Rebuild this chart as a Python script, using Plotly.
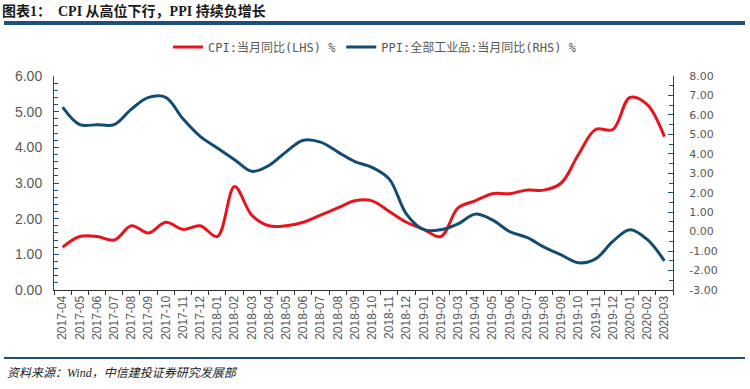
import plotly.graph_objects as go

months = ["2017-04","2017-05","2017-06","2017-07","2017-08","2017-09","2017-10","2017-11","2017-12",
          "2018-01","2018-02","2018-03","2018-04","2018-05","2018-06","2018-07","2018-08","2018-09",
          "2018-10","2018-11","2018-12","2019-01","2019-02","2019-03","2019-04","2019-05","2019-06",
          "2019-07","2019-08","2019-09","2019-10","2019-11","2019-12","2020-01","2020-02","2020-03"]
cpi = [1.2,1.5,1.5,1.4,1.8,1.6,1.9,1.7,1.8,
       1.5,2.9,2.1,1.8,1.8,1.9,2.1,2.3,2.5,
       2.5,2.2,1.9,1.7,1.5,2.3,2.5,2.7,2.7,
       2.8,2.8,3.0,3.8,4.5,4.5,5.4,5.2,4.3]
ppi = [6.4,5.5,5.5,5.5,6.3,6.9,6.9,5.8,4.9,
       4.3,3.7,3.1,3.4,4.1,4.7,4.6,4.1,3.6,
       3.3,2.7,0.9,0.1,0.1,0.4,0.9,0.6,0.0,
       -0.3,-0.8,-1.2,-1.6,-1.4,-0.5,0.1,-0.4,-1.5]
left_ticks = [0,1,2,3,4,5,6]
right_ticks = [-3,-2,-1,0,1,2,3,4,5,6,7,8]

title_text = "<b>图表1：  CPI 从高位下行，PPI 持续负增长</b>"
source_text = "<i>资料来源：Wind，中信建投证券研究发展部</i>"
name_cpi = "CPI:当月同比(LHS) %"
name_ppi = "PPI:全部工业品:当月同比(RHS) %"

RED = "#E8141B"
BLUE = "#134C72"
AXIS = "#1B4F72"
GRAY = "#595959"

fig = go.Figure()
fig.add_trace(go.Scatter(x=months, y=cpi, name=name_cpi, mode="lines",
                         line=dict(color=RED, width=3, shape="spline", smoothing=1.0)))
fig.add_trace(go.Scatter(x=months, y=ppi, name=name_ppi, mode="lines", yaxis="y2",
                         line=dict(color=BLUE, width=3, shape="spline", smoothing=1.0)))

fig.update_layout(
    width=750, height=389,
    margin=dict(l=54, r=77, t=76, b=99, autoexpand=False),
    paper_bgcolor="white", plot_bgcolor="white",
    showlegend=True,
    legend=dict(orientation="h", x=0.5, xref="container", xanchor="center",
                y=1 - 47/389, yref="container", yanchor="middle",
                font=dict(family="DejaVu Sans Mono, Noto Sans CJK SC", size=12, color=GRAY),
                itemwidth=30, tracegroupgap=0, bgcolor="rgba(0,0,0,0)"),
    xaxis=dict(type="category", range=[-0.5, len(months) - 0.5], automargin=False,
               showgrid=False, showline=True, linecolor="#333333", linewidth=1,
               ticks="outside", ticklen=4, tickcolor="#333333", tickson="boundaries",
               tickangle=-90, tickfont=dict(family="Liberation Sans, Arial", size=12, color=GRAY),
               zeroline=False),
    yaxis=dict(range=[0, 6], tickvals=left_ticks, ticktext=[f"{v:.2f}" for v in left_ticks],
               automargin=False,
               showgrid=False, showline=True, linecolor=AXIS, linewidth=1,
               ticks="inside", ticklen=5, tickcolor=AXIS,
               minor=dict(dtick=0.2, ticks="inside", ticklen=4, tickcolor=AXIS, showgrid=False),
               tickfont=dict(family="Liberation Sans, Arial", size=14, color=GRAY),
               ticklabelstandoff=8, zeroline=False),
    yaxis2=dict(range=[-3, 8], overlaying="y", side="right", automargin=False,
                tickvals=right_ticks, ticktext=[f"{v:.2f}" for v in right_ticks],
                showgrid=False, showline=True, linecolor=AXIS, linewidth=1,
                ticks="inside", ticklen=5, tickcolor=AXIS,
                minor=dict(dtick=0.5, ticks="inside", ticklen=4, tickcolor=AXIS, showgrid=False),
                tickfont=dict(family="DejaVu Sans", size=11, color=GRAY),
                ticklabelstandoff=13, zeroline=False),
)

# title, header bar, footer line and source
fig.add_annotation(text=title_text, xref="paper", yref="paper", x=-54/619, y=1 + (76 - 11) / 214,
                   xanchor="left", yanchor="middle", showarrow=False,
                   font=dict(family="Liberation Serif, Noto Sans CJK SC", size=14, color="#1a1a1a"))
fig.add_shape(type="rect", xref="paper", yref="paper", x0=-50/619, x1=(745-54)/619,
              y0=1 + (76 - 25) / 214, y1=1 + (76 - 21) / 214, fillcolor="#1F4E79", line=dict(width=0))
fig.add_shape(type="rect", xref="paper", yref="paper", x0=-50/619, x1=(745-54)/619,
              y0=-(359 - 290) / 214, y1=-(357 - 290) / 214, fillcolor="#1F4E79", line=dict(width=0))
fig.add_annotation(text=source_text, xref="paper", yref="paper", x=-49/619, y=-(373 - 290) / 214,
                   xanchor="left", yanchor="middle", showarrow=False,
                   font=dict(family="Liberation Serif, Noto Sans CJK SC", size=12, color="#222222"))

fig.write_html("out.html", config={"displayModeBar": False},
               post_script="document.body.style.margin='0';document.body.style.overflow='hidden';")
